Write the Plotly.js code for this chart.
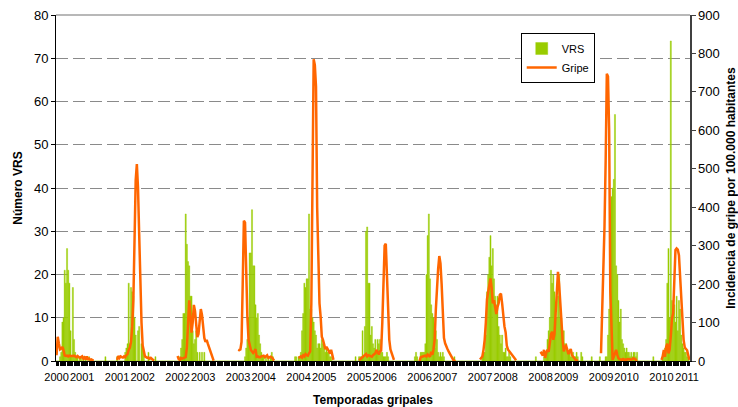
<!DOCTYPE html>
<html>
<head>
<meta charset="utf-8">
<script src="https://cdn.plot.ly/plotly-3.0.1.min.js"></script>
<style>html,body{margin:0;padding:0;background:#fff;}#chart{width:738px;height:407px;}</style>
</head>
<body>
<div id="chart"></div>
<script>
// Season labels (first year / second year of each flu season)
const seasonStart = ["2000","2001","2002","2003","2004","2005","2006","2007","2008","2009","2010"];
const seasonEnd   = ["2001","2002","2003","2004","2005","2006","2007","2008","2009","2010","2011"];

// VRS weekly counts, one array per season (week 40 onwards)
const vrs2000 = [0,0,0,1,2,9,10,21,18,26, 21,18,7,1,17,5,2,1,1,0, 1,1,0,1,0,1,0,0,1,0, 0,0,0,0,0,0,0,0,0,0, 0,0,1,0,0,0,0,0,0,0, 0,0];
const vrs2001 = [1,0,0,0,0,0,0,2,3,4, 18,4,17,16,15,10,6,0,7,8, 0,4,3,2,0,0,0,2,0,0, 0,0,0,1,0,0,0,0,0,0, 0,0,0,0,0,0,0,0,0,0, 0,0];
const vrs2002 = [0,0,1,3,5,11,11,34,27,23, 22,15,15,7,4,5,7,2,0,2, 0,2,0,2,0,0,0,0,0,0, 0,0,0,0,0,0,0,0,0,0, 0,0,0,0,0,0,0,0,0,0, 0,0];
const vrs2003 = [0,0,0,0,0,0,1,3,5,10, 25,25,35,22,22,13,10,11,6,4, 2,1,1,0,1,0,1,0,1,2, 1,0,0,0,0,0,0,0,0,0, 0,0,0,0,0,0,0,0,0,1, 1,0];
const vrs2004 = [1,1,2,7,11,18,17,19,19,34, 12,12,10,9,7,6,3,4,4,3, 5,4,4,2,3,2,2,1,1,0, 0,0,0,0,0,0,0,0,0,0, 0,0,0,0,0,0,0,0,0,1, 0,0];
const vrs2005 = [1,1,1,7,1,8,30,31,18,18, 6,8,4,3,5,2,5,4,5,2, 2,1,1,1,2,1,0,0,0,0, 0,0,0,0,0,0,0,0,0,0, 0,0,0,0,0,0,0,0,1,2, 1,0];
const vrs2006 = [0,2,2,2,2,4,20,29,34,19, 13,11,10,3,7,5,2,1,2,1, 2,1,0,0,0,0,0,0,0,0, 1,0,0,0,0,0,0,0,0,0, 0,0,0,0,0,0,0,0,0,0, 0,0];
const vrs2007 = [0,0,1,2,2,6,16,20,24,29, 22,26,19,15,13,15,8,6,4,6, 2,2,3,1,1,2,1,0,0,0, 0,0,0,0,0,0,0,0,0,0, 0,0,0,0,0,0,0,0,1,0, 0,0];
const vrs2008 = [0,0,0,1,1,2,5,7,10,21, 18,20,16,11,10,15,20,10,10,7, 7,4,4,3,2,2,1,1,2,1, 1,2,1,0,0,2,1,0,0,0, 0,0,0,0,1,0,0,0,0,0, 0,1];
const vrs2009 = [0,0,0,0,1,1,6,12,32,38, 40,42,57,22,20,14,9,12,5,4, 3,2,3,2,2,1,2,1,2,2, 1,2,0,0,0,0,0,0,0,0, 0,0,0,0,0,1,0,0,0,0, 0,0];
const vrs2010 = [0,1,1,3,5,18,26,10,74,14, 12,13,9,15,7,14,12,6,4,3, 2,2,1,1,0];

// Influenza incidence per 100,000 (surveillance weeks 40-20 of each season)
const gripe2000 = [15,63,45,30,32,37,28,14,13,14,12,14,13,12,13,14,12,10,13,11,8,10,12,6,9,4,12,5,6,3,4,2,2];
const gripe2001 = [3,13,8,12,10,9,12,10,15,18,29,35,50,90,158,300,470,512,450,330,200,100,40,20,12,10,8,9,6,8,4,3,2];
const gripe2002 = [13,5,3,8,6,7,8,10,35,90,158,120,74,100,146,130,80,62,70,110,135,120,80,60,50,55,45,35,25,15,5,1];
const gripe2003 = [29,28,30,50,200,365,360,200,115,55,40,29,25,21,25,31,11,12,10,10,12,13,14,10,13,15,8,10,11,9,3,1];
const gripe2004 = [8,10,12,9,15,12,18,15,14,20,25,150,400,785,770,714,400,230,150,115,63,55,40,31,37,30,25,20,29,15,3];
const gripe2005 = [2,5,8,10,12,15,18,12,15,14,13,11,15,18,20,29,22,17,25,27,100,200,300,305,220,130,55,30,20,10,3];
const gripe2006 = [0,10,11,13,13,14,12,17,15,11,24,16,30,55,133,193,240,273,254,200,115,60,46,35,31,25,20,12,7,3,1,0];
const gripe2007 = [4,8,12,29,55,100,160,180,195,215,190,150,158,135,122,140,150,172,175,150,110,90,75,40,30,26,22,20,15,10,5,2];
const gripe2008 = [24,20,14,29,8,22,29,24,45,70,76,55,70,120,190,232,200,140,90,55,25,37,40,30,18,25,31,15,11,6,4,2,0];
const gripe2009 = [20,115,210,350,520,747,740,600,180,55,3,11,20,29,16,7,5,4,3,5,3,4,3,5,4,3,4,5,7,5,3,4];
const gripe2010 = [3,12,29,11,37,45,20,30,65,110,124,210,289,293,290,275,220,140,90,55,35,30,28,15,3];

const vrsSeasons = [vrs2000,vrs2001,vrs2002,vrs2003,vrs2004,vrs2005,vrs2006,vrs2007,vrs2008,vrs2009,vrs2010];
const gripeSeasons = [gripe2000,gripe2001,gripe2002,gripe2003,gripe2004,gripe2005,gripe2006,gripe2007,gripe2008,gripe2009,gripe2010];

const WEEKS = 52;
const vrs = [], gripe = [], weekIdx = [];
vrsSeasons.forEach((season, s) => {
  const g = gripeSeasons[s];
  season.forEach((v, j) => {
    weekIdx.push(s * WEEKS + j);
    vrs.push(v);
    gripe.push(j < g.length ? g[j] : null);
  });
});

const tickvals = [], ticktext = [];
seasonStart.forEach((lab, s) => {
  tickvals.push(s * WEEKS); ticktext.push(lab);
  tickvals.push(s * WEEKS + 22); ticktext.push(seasonEnd[s]);
});

const FONT = 'Liberation Sans, Arial, sans-serif';

const traces = [
  {type:'bar', name:'VRS', x: weekIdx, y: vrs, yaxis:'y',
   marker:{color:'#99CC00', line:{width:0.4, color:'#99CC00'}}},
  {type:'scatter', mode:'lines', name:'Gripe', x: weekIdx, y: gripe, yaxis:'y2',
   connectgaps:false, line:{color:'#FF6600', width:2.5}}
];

const layout = {
  width:738, height:407,
  margin:{l:56, r:48, t:15, b:46, pad:0},
  paper_bgcolor:'#fff', plot_bgcolor:'#fff',
  font:{family:FONT, color:'#000'},
  bargap:0.04,
  showlegend:true,
  legend:{x:0.733, y:0.948, xanchor:'left', yanchor:'top',
          bgcolor:'#fff', bordercolor:'#000', borderwidth:1,
          font:{family:FONT, size:11, color:'#000'}, tracegroupgap:0},
  xaxis:{range:[-0.5, 544.5], tickmode:'array', tickvals:tickvals, ticktext:ticktext,
         ticks:'outside', ticklen:4, tickcolor:'#000', tickwidth:1,
         minor:{ticks:'outside', ticklen:4, tickcolor:'#000', tickwidth:1, tickmode:'linear', tick0:0, dtick:1, showgrid:false},
         showline:true, linecolor:'#000', linewidth:1, showgrid:false, zeroline:false,
         tickfont:{family:FONT, size:11, color:'#000'}, tickangle:0, ticklabelstandoff:2,
         title:{text:'Temporadas gripales', standoff:15, font:{family:FONT, size:12, weight:'bold', color:'#000'}}},
  yaxis:{range:[0,80], tick0:0, dtick:10, ticks:'outside', ticklen:4, tickcolor:'#000',
         showline:true, linecolor:'#000', linewidth:1, zeroline:false,
         showgrid:true, gridcolor:'#8a8a8a', gridwidth:1, griddash:'12px,5px',
         tickfont:{family:FONT, size:13, color:'#000'},
         title:{text:'Número VRS', standoff:8, font:{family:FONT, size:12, weight:'bold', color:'#000'}}},
  yaxis2:{range:[0,900], tick0:0, dtick:100, overlaying:'y', side:'right', anchor:'x',
          ticks:'outside', ticklen:4, tickcolor:'#404040',
          showline:true, linecolor:'#404040', linewidth:1.5, zeroline:false, showgrid:false,
          tickfont:{family:FONT, size:13, color:'#000'},
          title:{text:'Incidencia de gripe por 100.000 habitantes', standoff:16, font:{family:FONT, size:12, weight:'bold', color:'#000'}}},
  shapes:[{type:'line', xref:'paper', yref:'paper', x0:0, x1:1, y0:1, y1:1, line:{color:'#a0a0a0', width:1.5}}]
};

Plotly.newPlot('chart', traces, layout, {displayModeBar:false, staticPlot:true});
</script>
</body>
</html>
